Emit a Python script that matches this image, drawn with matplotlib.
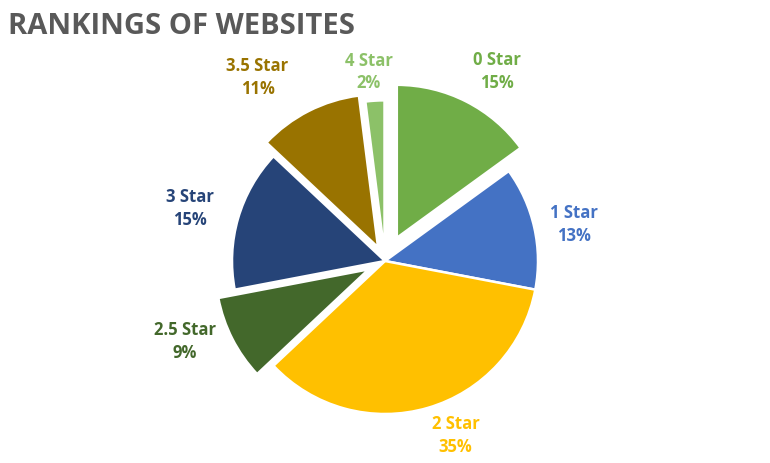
import numpy as np
import matplotlib.pyplot as plt

# data
labels = ["0 Star", "1 Star", "2 Star", "2.5 Star", "3 Star", "3.5 Star", "4 Star"]
shares = [15, 13, 35, 9, 15, 11, 2]
colors = ["#70AD47", "#4472C4", "#FFC000", "#43682B", "#264478", "#997300", "#8CC168"]
explode = [0.17, 0.0, 0.0, 0.12, 0.0, 0.1, 0.05]
# label placement: distance from centre and a small angle nudge (degrees)
label_dist = [1.44, 1.26, 1.23, 1.41, 1.32, 1.46, 1.24]
label_turn = [-3.5, -1.6, 5.8, -5.0, 1.2, 7.8, 1.4]

plt.rcParams['font.family'] = ['Open Sans', 'DejaVu Sans']

fig = plt.figure(figsize=(7.7, 4.63), dpi=100)
ax = fig.add_axes([0, 0, 1, 1])

wedges, _ = ax.pie(shares, colors=colors, explode=explode, startangle=90,
                   counterclock=False, radius=1.0,
                   wedgeprops=dict(edgecolor='white', linewidth=1.8))

# pie resets the limits, so fix them afterwards
R = 153.0  # pie radius in pixels
cx, cy = 385.0, 261.0  # centre, pixels from top-left
ax.set_xlim(-cx / R, (770 - cx) / R)
ax.set_ylim((cy - 463) / R, cy / R)
ax.set_aspect('equal')
ax.axis('off')

total = sum(shares)
for w, lab, val, col, d, turn in zip(wedges, labels, shares, colors, label_dist, label_turn):
    th = np.deg2rad((w.theta1 + w.theta2) / 2 + turn)
    ax.text(d * np.cos(th), d * np.sin(th), f"{lab}\n{val / total * 100:.0f}%",
            color=col, ha='center', va='center',
            fontsize=12, fontweight='bold', linespacing=1.35)

fig.text(8 / 770, 1 - 27 / 463, "RANKINGS OF WEBSITES", color="#595959",
         fontsize=21, fontweight='bold', ha='left', va='center')

fig.savefig("out.png", dpi=100, facecolor='white')
